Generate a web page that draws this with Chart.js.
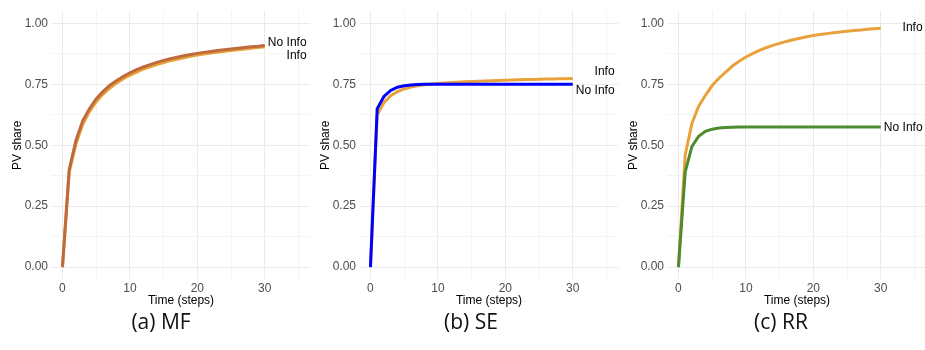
<!DOCTYPE html>
<html>
<head>
<meta charset="utf-8">
<script src="https://cdn.jsdelivr.net/npm/chart.js@4.4.1/dist/chart.umd.min.js"></script>
<style>
  html, body { margin: 0; padding: 0; background: #ffffff; }
  body { width: 925px; height: 350px; position: relative; overflow: hidden; }
  .panel { position: absolute; top: 0; width: 310px; height: 308px; }
  .cap { position: absolute; top: 308px; width: 200px; text-align: center;
         font-family: "Open Sans", "Noto Sans", sans-serif; font-size: 21px; line-height: 27px; color: #111; }
</style>
</head>
<body>
<div class="panel" style="left:0px"><canvas id="c0" width="310" height="308"></canvas></div>
<div class="panel" style="left:308px"><canvas id="c1" width="310" height="308"></canvas></div>
<div class="panel" style="left:616px"><canvas id="c2" width="310" height="308"></canvas></div>
<div class="cap" style="left:61px">(a) MF</div>
<div class="cap" style="left:371px">(b) SE</div>
<div class="cap" style="left:681px">(c) RR</div>
<script>
const steps = [0,1,2,3,4,5,6,7,8,9,10,11,12,13,14,15,16,17,18,19,20,21,22,23,24,25,26,27,28,29,30];

const mfInfo   = [0,0.39,0.505,0.585,0.638,0.678,0.709,0.734,0.755,0.772,0.787,0.800,0.812,0.822,0.831,0.839,0.847,0.853,0.859,0.865,0.870,0.874,0.878,0.882,0.886,0.889,0.892,0.895,0.898,0.901,0.904];
const mfNoInfo = [0,0.40,0.52,0.60,0.65,0.69,0.72,0.745,0.765,0.782,0.797,0.810,0.821,0.831,0.840,0.848,0.855,0.861,0.867,0.872,0.877,0.881,0.885,0.889,0.892,0.895,0.898,0.901,0.904,0.906,0.909];

const seInfo   = [0,0.625,0.675,0.703,0.720,0.731,0.739,0.744,0.748,0.751,0.753,0.755,0.757,0.759,0.761,0.762,0.763,0.764,0.765,0.766,0.767,0.768,0.769,0.770,0.770,0.771,0.772,0.772,0.773,0.773,0.774];
const seNoInfo = [0,0.65,0.70,0.725,0.738,0.744,0.747,0.749,0.750,0.750,0.750,0.750,0.750,0.750,0.750,0.750,0.750,0.750,0.750,0.750,0.750,0.750,0.750,0.750,0.750,0.750,0.750,0.750,0.750,0.750,0.750];

const rrInfo   = [0,0.46,0.59,0.66,0.705,0.745,0.775,0.800,0.825,0.845,0.862,0.876,0.889,0.900,0.910,0.918,0.926,0.933,0.939,0.945,0.950,0.954,0.958,0.962,0.965,0.968,0.971,0.973,0.976,0.978,0.980];
const rrNoInfo = [0,0.39,0.495,0.537,0.557,0.566,0.571,0.573,0.574,0.575,0.575,0.575,0.575,0.575,0.575,0.575,0.575,0.575,0.575,0.575,0.575,0.575,0.575,0.575,0.575,0.575,0.575,0.575,0.575,0.575,0.575];

const yTicks = [0, 0.125, 0.25, 0.375, 0.5, 0.625, 0.75, 0.875, 1];
const yTickLabels = ["0.00", "", "0.25", "", "0.50", "", "0.75", "", "1.00"];
const xTicks = [0, 5, 10, 15, 20, 25, 30, 35];
const xTickLabels = ["0", "", "10", "", "20", "", "30", ""];

const seriesLabels = ["Info", "No Info"];

// label anchors (y in data units) for the end-of-line text labels
const panels = [
  { id: "c0", series: [mfInfo, mfNoInfo], colors: ["#E9A23B", "#BE6A3C"], labelY: [0.868, 0.919] },
  { id: "c1", series: [seInfo, seNoInfo], colors: ["#E9A23B", "#0000FF"], labelY: [0.800, 0.7255] },
  { id: "c2", series: [rrInfo, rrNoInfo], colors: ["#E9A23B", "#4E8B2E"], labelY: [0.9825, 0.5737] }
];

const FONT = "'Liberation Sans', Arial, Helvetica, sans-serif";

const endLabels = {
  id: "endLabels",
  afterDatasetsDraw(chart, args, opts) {
    const ctx = chart.ctx;
    const xs = chart.scales.x, ys = chart.scales.y;
    ctx.save();
    ctx.font = "12px " + FONT;
    ctx.fillStyle = "#000000";
    ctx.textAlign = "right";
    ctx.textBaseline = "middle";
    opts.labels.forEach((t, i) => {
      ctx.fillText(t, xs.getPixelForValue(36.2), ys.getPixelForValue(opts.ys[i]));
    });
    ctx.restore();
  }
};

panels.forEach(p => {
  new Chart(document.getElementById(p.id), {
    type: "line",
    data: {
      labels: steps,
      datasets: p.series.map((s, i) => ({
        label: seriesLabels[i],
        data: steps.map((t, k) => ({ x: t, y: s[k] })),
        borderColor: p.colors[i],
        borderWidth: 3,
        pointRadius: 0,
        tension: 0,
        fill: false,
        order: 1 - i
      }))
    },
    options: {
      responsive: false,
      animation: false,
      devicePixelRatio: 1,
      layout: { padding: { top: 8.4, right: 0, bottom: 0, left: 0 } },
      plugins: {
        legend: { display: false },
        tooltip: { enabled: false },
        endLabels: { labels: seriesLabels, ys: p.labelY }
      },
      scales: {
        x: {
          type: "linear",
          min: -1.55,
          max: 36.71,
          afterFit: s => { s.height = 28.7; },
          afterBuildTicks: s => { s.ticks = xTicks.map(v => ({ value: v })); },
          ticks: {
            autoSkip: false, maxRotation: 0, padding: 2,
            color: "#4D4D4D", font: { family: FONT, size: 12 },
            callback: (v, i) => xTickLabels[i]
          },
          grid: {
            drawTicks: false,
            color: c => (c.tick && c.tick.value % 10 === 0) ? "#EBEBEB" : "#F4F4F4",
            lineWidth: 1
          },
          border: { display: false },
          title: { display: true, text: "Time (steps)", color: "#000000",
                   font: { family: FONT, size: 12 }, padding: { top: 0, bottom: 0 } }
        },
        y: {
          type: "linear",
          min: -0.05,
          max: 1.05,
          afterFit: s => { s.width = 52; },
          afterBuildTicks: s => { s.ticks = yTicks.map(v => ({ value: v })); },
          ticks: {
            autoSkip: false, padding: 4,
            color: "#4D4D4D", font: { family: FONT, size: 12 },
            callback: (v, i) => yTickLabels[i]
          },
          grid: {
            drawTicks: false,
            color: c => (c.tick && (c.tick.value * 4) % 1 === 0) ? "#EBEBEB" : "#F4F4F4",
            lineWidth: 1
          },
          border: { display: false },
          title: { display: true, text: "PV share", color: "#000000",
                   font: { family: FONT, size: 12 }, padding: { top: 10, bottom: 0 } }
        }
      }
    },
    plugins: [endLabels]
  });
});
</script>
</body>
</html>
